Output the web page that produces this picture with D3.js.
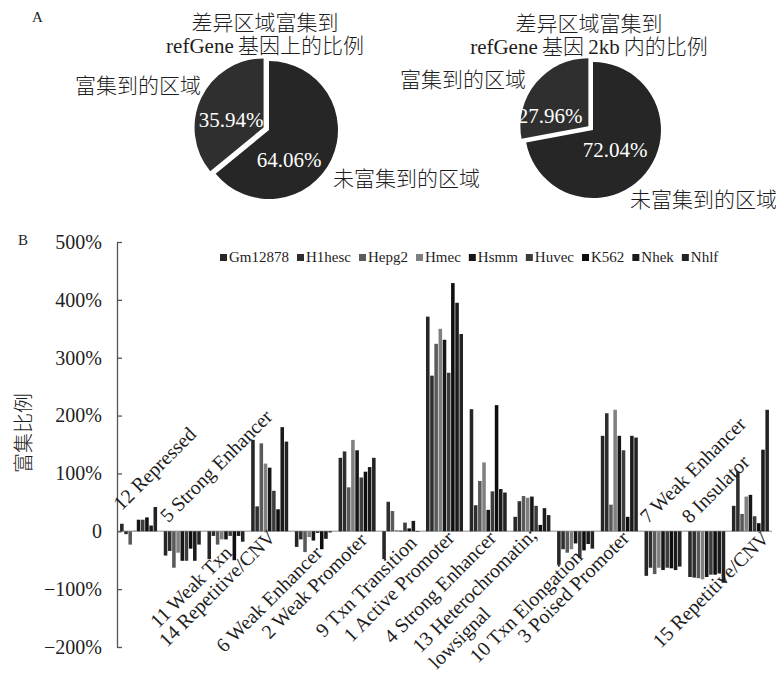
<!DOCTYPE html>
<html>
<head>
<meta charset="utf-8">
<script src="https://cdn.jsdelivr.net/npm/d3@7"></script>
<style>
  body { margin: 0; background: #fff; }
  svg { display: block; }
  svg text { font-family: "Liberation Serif", "Noto Sans CJK SC", serif; }
</style>
</head>
<body>
<svg id="chart" width="776" height="682"></svg>
<script>
// ---- panel A data ----
const sliceNames = ['未富集到的区域', '富集到的区域'];
const refGeneShare = [64.06, 35.94];
const refGene2kbShare = [72.04, 27.96];

// ---- panel B data ----
const states = ['12 Repressed', '5 Strong Enhancer', '11 Weak Txn', '14 Repetitive/CNV', '6 Weak Enhancer',
  '2 Weak Promoter', '9 Txn Transition', '1 Active Promoter', '4 Strong Enhancer', '13 Heterochromatin;|lowsignal',
  '10 Txn Elongation', '3 Poised Promoter', '7 Weak Enhancer', '8 Insulator', '15 Repetitive/CNV'];
const cellLines = ['Gm12878', 'H1hesc', 'Hepg2', 'Hmec', 'Hsmm', 'Huvec', 'K562', 'Nhek', 'Nhlf'];
const gm12878 = [13, -42, -48, 158, -27, 127, -48, 371, 211, 25, -58, 165, -77, -79, 44];
const h1hesc  = [-5, -34, -8, 43, -14, 138, 51, 269, 45, 52, -31, 204, -63, -80, 103];
const hepg2   = [-23, -63, -23, 152, -36, 76, 35, 324, 87, 61, -37, 46, -74, -81, 30];
const hmec    = [1, -37, -14, 117, -10, 158, 2, 350, 119, 58, -31, 210, -63, -83, 60];
const hsmm    = [20, -51, -14, 110, -16, 140, 1, 331, 37, 60, -21, 165, -67, -79, 63];
const huvec   = [20, -51, -8, 70, -3, 93, 15, 274, 69, 44, -46, 140, -63, -75, 26];
const k562    = [24, -30, -50, 38, -31, 103, 5, 429, 218, 11, -33, 25, -64, -75, 14];
const nhek    = [10, -51, -8, 180, -13, 111, 18, 395, 73, 40, -22, 165, -67, -73, 141];
const nhlf    = [42, -23, -18, 155, -2, 127, -1, 341, 67, 28, -30, 162, -61, -89, 210];
const yTicks = [-200, -100, 0, 100, 200, 300, 400, 500];

const seriesValues = [gm12878, h1hesc, hepg2, hmec, hsmm, huvec, k562, nhek, nhlf];
const seriesColors = ['#262626', '#2e2e2e', '#5a5a5a', '#808080', '#161616', '#3c3c3c', '#0e0e0e', '#1b1b1b', '#232323'];

// label placement relative to (group centre, zero line): [dx, dy, anchor]
const labelOffsets = [
  [-17, -20, 'start'], [-14, -8, 'start'], [7, 23, 'end'], [7, 7, 'end'], [10, 23, 'end'],
  [11, 10, 'end'], [17, 13, 'end'], [11, 8, 'end'], [9, 8, 'end'], [6, 5, 'end'],
  [8, 27, 'end'], [11, 8, 'end'], [-15, -7, 'start'], [-17, -7, 'start'], [20, 8, 'end']
];

const svg = d3.select('#chart');
const ink = '#1e1e1e';
const serif = '"Liberation Serif", "Noto Sans CJK SC", serif';

// ---------- Panel A: pies ----------
function drawPie(values, cx, cy, r, titleLines, pctPos, namePos) {
  const g = svg.append('g').attr('transform', `translate(${cx},${cy})`);
  const pie = d3.pie().sort(null).startAngle(0)(values);
  const arc = d3.arc().innerRadius(0).outerRadius(r);

  g.selectAll('path')
    .data(pie)
    .join('path')
    .attr('transform', (d, i) => {
      if (i === 0) return null;
      const a = (d.startAngle + d.endAngle) / 2;
      return `translate(${6 * Math.sin(a)},${-6 * Math.cos(a)})`;
    })
    .attr('d', arc)
    .attr('fill', (d, i) => i === 0 ? '#262626' : '#2f2f2f');

  g.selectAll('.pct')
    .data(pie)
    .join('text')
    .attr('class', 'pct')
    .attr('x', (d, i) => pctPos[i][0])
    .attr('y', (d, i) => pctPos[i][1])
    .attr('text-anchor', 'middle')
    .attr('font-family', serif)
    .attr('font-size', 21)
    .attr('fill', '#fff')
    .text(d => d.data.toFixed(2) + '%');

  g.selectAll('.title')
    .data(titleLines)
    .join('text')
    .attr('class', 'title')
    .attr('x', -4)
    .attr('y', (d, i) => -r - 31 + i * 23)
    .attr('text-anchor', 'middle')
    .attr('font-family', serif)
    .attr('font-weight', 300)
    .attr('font-size', 21)
    .attr('fill', ink)
    .text(d => d);

  g.selectAll('.name')
    .data(sliceNames)
    .join('text')
    .attr('class', 'name')
    .attr('x', (d, i) => namePos[i][0])
    .attr('y', (d, i) => namePos[i][1])
    .attr('font-family', serif)
    .attr('font-weight', 300)
    .attr('font-size', 21)
    .attr('fill', ink)
    .text(d => d);
}

drawPie(refGeneShare, 269, 130, 69, ['差异区域富集到', 'refGene\u2009基因上的比例'],
  [[20, 37], [-38, -3]], [[64, 56], [-194, -37]]);
drawPie(refGene2kbShare, 593, 130, 68, ['差异区域富集到', 'refGene\u2009基因\u20092kb\u2009内的比例'],
  [[22, 27], [-43, -7]], [[37, 77], [-193, -43]]);

svg.append('text').attr('x', 32).attr('y', 22).attr('font-family', serif)
  .attr('font-size', 15).attr('fill', ink).text('A');
svg.append('text').attr('x', 18).attr('y', 245).attr('font-family', serif)
  .attr('font-size', 15).attr('fill', ink).text('B');

// ---------- Panel B: grouped bars ----------
const plotLeft = 117, plotRight = 772, plotTop = 242, plotBottom = 647;

const x0 = d3.scaleBand().domain(d3.range(states.length))
  .range([plotLeft, plotRight]).paddingInner(0.153).paddingOuter(0.07);
const x1 = d3.scaleBand().domain(d3.range(cellLines.length))
  .range([0, x0.bandwidth()]).paddingInner(0.15);
const y = d3.scaleLinear().domain([-200, 500]).range([plotBottom, plotTop]);

const chart = svg.append('g');

// zero line
chart.append('line')
  .attr('x1', plotLeft).attr('x2', plotRight)
  .attr('y1', y(0)).attr('y2', y(0))
  .attr('stroke', '#b4b4b4').attr('stroke-width', 1.5);

const groups = chart.selectAll('.grp')
  .data(states)
  .join('g')
  .attr('class', 'grp')
  .attr('transform', (d, i) => `translate(${x0(i)},0)`);

groups.selectAll('rect')
  .data((d, i) => seriesValues.map((s, j) => ({ j, v: s[i] })))
  .join('rect')
  .attr('x', d => x1(d.j))
  .attr('width', x1.bandwidth())
  .attr('y', d => y(Math.max(0, d.v)))
  .attr('height', d => Math.abs(y(d.v) - y(0)))
  .attr('fill', d => seriesColors[d.j]);

// y axis
const yAxis = d3.axisLeft(y)
  .tickValues(yTicks)
  .tickSizeInner(-5)
  .tickSizeOuter(0)
  .tickPadding(15)
  .tickFormat(d => d === 0 ? '0' : (d < 0 ? '\u2212' + (-d) : d) + '%');

const yAxisG = chart.append('g')
  .attr('transform', `translate(${plotLeft},0)`)
  .call(yAxis)
  .attr('font-family', serif);
yAxisG.select('.domain').attr('stroke', '#555').attr('stroke-width', 1.3);
yAxisG.selectAll('.tick line').attr('stroke', '#555').attr('stroke-width', 1.3);
yAxisG.selectAll('.tick text')
  .attr('font-size', 20)
  .attr('font-family', serif)
  .attr('fill', ink);

svg.append('text')
  .attr('transform', 'translate(31,433) rotate(-90)')
  .attr('text-anchor', 'middle')
  .attr('font-family', serif)
  .attr('font-weight', 300)
  .attr('font-size', 20)
  .attr('fill', ink)
  .text('富集比例');

// category labels
states.forEach((name, i) => {
  const [dx, dy, anchor] = labelOffsets[i];
  const cx = x0(i) + x0.bandwidth() / 2 + dx;
  const cy = y(0) + dy;
  const lines = name.split('|');
  const lg = svg.append('g').attr('transform', `translate(${cx},${cy}) rotate(-45)`);
  const first = lg.append('text')
    .attr('text-anchor', anchor)
    .attr('font-family', serif)
    .attr('font-size', 20)
    .attr('fill', ink)
    .text(lines[0]);
  if (lines.length > 1) {
    const len = first.node().getComputedTextLength();
    lg.append('text')
      .attr('x', -len)
      .attr('y', 23)
      .attr('font-family', serif)
      .attr('font-size', 20)
      .attr('fill', ink)
      .text(lines[1]);
  }
});

// legend
const legend = svg.append('g').attr('transform', 'translate(220,262)');
let lx = 0;
cellLines.forEach((name, j) => {
  const item = legend.append('g').attr('transform', `translate(${lx},0)`);
  item.append('rect')
    .attr('x', 0).attr('y', -8).attr('width', 7).attr('height', 7)
    .attr('fill', seriesColors[j]);
  const t = item.append('text')
    .attr('x', 9)
    .attr('font-family', serif)
    .attr('font-size', 15)
    .attr('fill', ink)
    .text(name);
  lx += 9 + t.node().getComputedTextLength() + 8;
});
</script>
</body>
</html>
